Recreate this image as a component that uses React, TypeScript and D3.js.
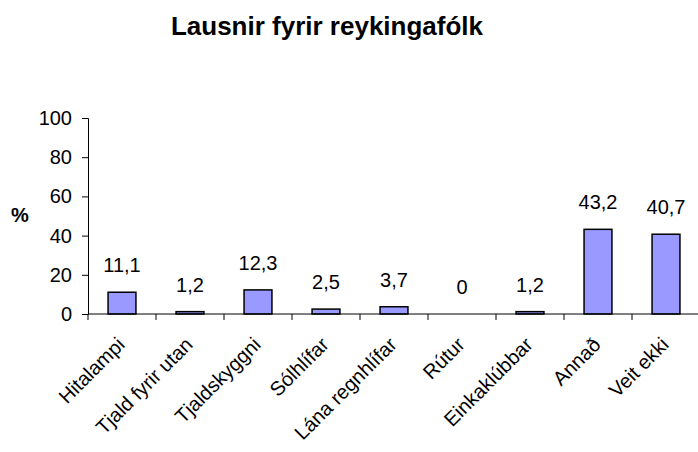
import React, { useEffect, useRef } from 'react';
import * as d3 from 'd3';

const categories = ['Hitalampi', 'Tjald fyrir utan', 'Tjaldskyggni', 'Sólhlífar', 'Lána regnhlífar', 'Rútur', 'Einkaklúbbar', 'Annað', 'Veit ekki'];
const values = [11.1, 1.2, 12.3, 2.5, 3.7, 0, 1.2, 43.2, 40.7];
const yTicks = [0, 20, 40, 60, 80, 100];

const App = () => {
  const svgRef = useRef<SVGSVGElement>(null);

  useEffect(() => {
    const svg = d3.select(svgRef.current);
    svg.selectAll('*').remove();

    const width = 698, height = 452;
    const left = 88, right = 700, top = 118, bottom = 314;
    const font = '"Liberation Sans", Arial, sans-serif';

    svg.attr('width', width).attr('height', height);

    const x = d3.scaleBand().domain(categories).range([left, right]);
    const y = d3.scaleLinear().domain([0, 100]).range([bottom, top]);

    svg.append('text')
      .attr('x', 327).attr('y', 35)
      .attr('text-anchor', 'middle')
      .style('font-family', font).style('font-weight', 'bold').style('font-size', '26px')
      .text('Lausnir fyrir reykingafólk');

    // y axis
    const yAxis = svg.append('g')
      .attr('transform', `translate(${left},0)`)
      .call(d3.axisLeft(y).tickValues(yTicks).tickSize(6).tickPadding(10).tickFormat(d3.format('d')));
    yAxis.select('.domain').attr('stroke', '#000');
    yAxis.selectAll('line').attr('stroke', '#000');
    yAxis.selectAll('text').style('font-family', font).style('font-size', '20px').attr('fill', '#000');

    svg.append('text')
      .attr('x', 20).attr('y', 222)
      .attr('text-anchor', 'middle')
      .style('font-family', font).style('font-weight', 'bold').style('font-size', '20px')
      .text('%');

    // bars
    const bw = x.bandwidth() * 0.41;
    svg.selectAll('rect.bar')
      .data(values)
      .enter()
      .append('rect')
      .attr('class', 'bar')
      .attr('x', (d, i) => x(categories[i])! + x.bandwidth() / 2 - bw / 2)
      .attr('y', d => y(d))
      .attr('width', bw)
      .attr('height', d => bottom - y(d))
      .attr('fill', '#9999ff')
      .attr('stroke', d => d > 0 ? '#000' : 'none')
      .attr('stroke-width', 1.5);

    // x axis
    svg.append('line')
      .attr('x1', left).attr('x2', right)
      .attr('y1', bottom).attr('y2', bottom)
      .attr('stroke', '#000');
    svg.selectAll('line.xtick')
      .data(categories)
      .enter()
      .append('line')
      .attr('class', 'xtick')
      .attr('x1', d => x(d)!).attr('x2', d => x(d)!)
      .attr('y1', bottom).attr('y2', bottom + 6)
      .attr('stroke', '#000');

    // value labels
    svg.selectAll('text.val')
      .data(values)
      .enter()
      .append('text')
      .attr('class', 'val')
      .attr('x', (d, i) => x(categories[i])! + x.bandwidth() / 2)
      .attr('y', d => y(d) - 20)
      .attr('text-anchor', 'middle')
      .style('font-family', font).style('font-size', '20px')
      .text(d => String(d).replace('.', ','));

    // category labels
    svg.selectAll('text.cat')
      .data(categories)
      .enter()
      .append('text')
      .attr('class', 'cat')
      .attr('transform', d => `translate(${x(d)! + x.bandwidth() / 2 - 6},${bottom + 22}) rotate(-45)`)
      .attr('text-anchor', 'end')
      .attr('dy', '0.7em')
      .style('font-family', font).style('font-size', '20px')
      .text(d => d);
  }, []);

  return (
    <svg ref={svgRef} style={{ position: 'absolute', left: 0, top: 0, background: '#fff' }}></svg>
  );
};

export default App;
